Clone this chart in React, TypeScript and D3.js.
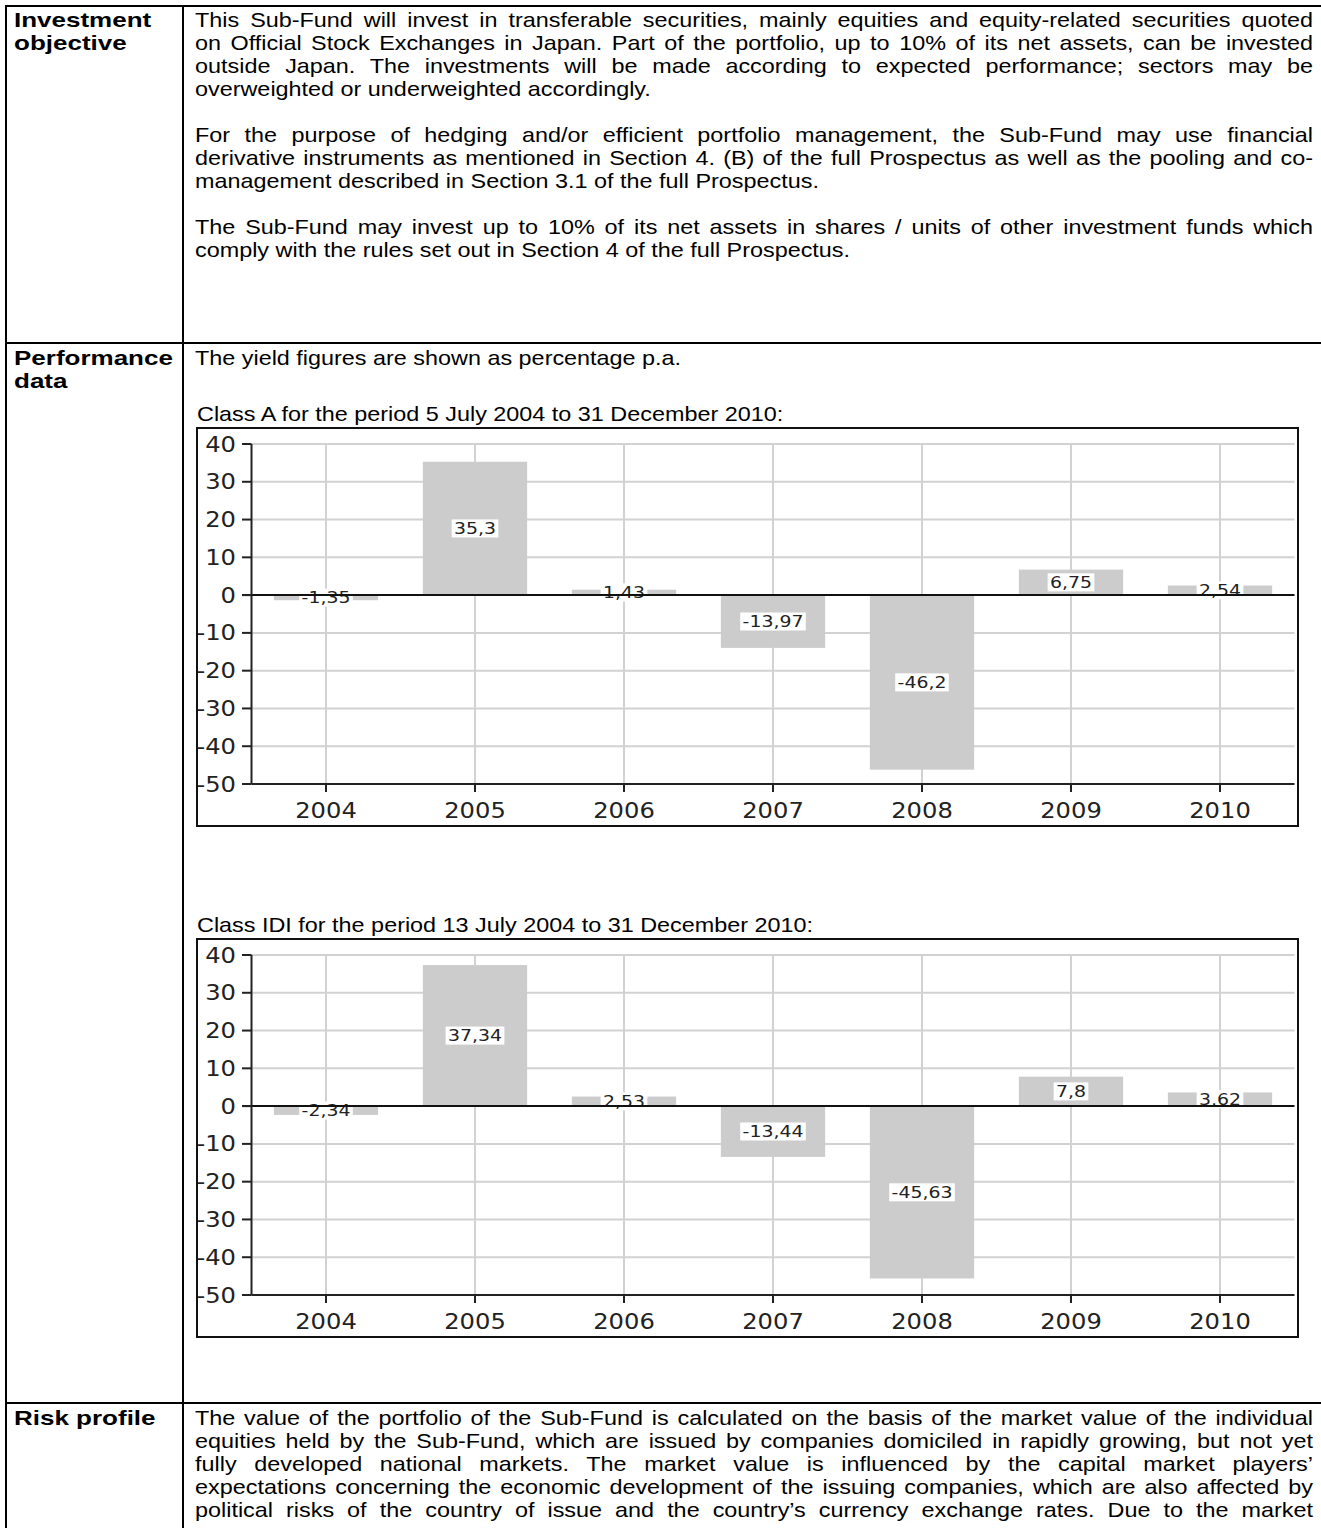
import React, { useEffect, useRef } from 'react';
import * as d3 from 'd3';

const years = ['2004', '2005', '2006', '2007', '2008', '2009', '2010'];
const classAValues = [-1.35, 35.3, 1.43, -13.97, -46.2, 6.75, 2.54];
const classIdiValues = [-2.34, 37.34, 2.53, -13.44, -45.63, 7.8, 3.62];
const yTicks = [40, 30, 20, 10, 0, -10, -20, -30, -40, -50];

// each line: [text, justified]
const objectiveLines: [string, boolean][] = [
  ['This Sub-Fund will invest in transferable securities, mainly equities and equity-related securities quoted', true],
  ['on Official Stock Exchanges in Japan. Part of the portfolio, up to 10% of its net assets, can be invested', true],
  ['outside Japan. The investments will be made according to expected performance; sectors may be', true],
  ['overweighted or underweighted accordingly.', false],
  ['', false],
  ['For the purpose of hedging and/or efficient portfolio management, the Sub-Fund may use financial', true],
  ['derivative instruments as mentioned in Section 4. (B) of the full Prospectus as well as the pooling and co-', true],
  ['management described in Section 3.1 of the full Prospectus.', false],
  ['', false],
  ['The Sub-Fund may invest up to 10% of its net assets in shares / units of other investment funds which', true],
  ['comply with the rules set out in Section 4 of the full Prospectus.', false]
];

const riskLines: [string, boolean][] = [
  ['The value of the portfolio of the Sub-Fund is calculated on the basis of the market value of the individual', true],
  ['equities held by the Sub-Fund, which are issued by companies domiciled in rapidly growing, but not yet', true],
  ['fully developed national markets. The market value is influenced by the capital market players\u2019', true],
  ['expectations concerning the economic development of the issuing companies, which are also affected by', true],
  ['political risks of the country of issue and the country\u2019s currency exchange rates. Due to the market', true]
];

const yieldNote = 'The yield figures are shown as percentage p.a.';
const classATitle = 'Class A for the period 5 July 2004 to 31 December 2010:';
const classIdiTitle = 'Class IDI for the period 13 July 2004 to 31 December 2010:';

const TEXT_FONT = '"Liberation Sans", Arial, sans-serif';
const CHART_FONT = '"DejaVu Sans", Verdana, sans-serif';
const TEXT_LEFT = 195;
const TEXT_RIGHT = 1313;
const LINE_H = 23;
const BODY_SX = 1.17;   // the page is stretched a bit horizontally
const BOLD_SX = 1.3;

export default function App() {
  const svgRef = useRef<SVGSVGElement>(null);

  useEffect(() => {
    if (!svgRef.current) return;
    document.body.style.margin = '0';

    const svg = d3.select(svgRef.current);
    svg.selectAll('*').remove();

    const bodyText = (txt: string, x: number, yc: number) =>
      svg.append('text')
        .attr('transform', `translate(${x},${yc + 7}) scale(${BODY_SX},1)`)
        .attr('font-family', TEXT_FONT)
        .attr('font-size', 20)
        .attr('fill', '#000')
        .attr('xml:space', 'preserve')
        .text(txt);

    const addLines = (lines: [string, boolean][], firstCenter: number) => {
      lines.forEach(([txt, justified], i) => {
        if (!txt) return;
        const t = bodyText(txt, TEXT_LEFT, firstCenter + i * LINE_H);
        if (justified) {
          const w = (t.node() as SVGTextElement).getComputedTextLength();
          const spaces = (txt.match(/ /g) || []).length;
          if (spaces > 0) {
            const target = (TEXT_RIGHT - TEXT_LEFT) / BODY_SX;
            t.attr('word-spacing', ((target - w) / spaces).toFixed(3));
          }
        }
      });
    };

    const addLabel = (txt: string, yc: number) => {
      svg.append('text')
        .attr('transform', `translate(14,${yc + 7}) scale(${BOLD_SX},1)`)
        .attr('font-family', TEXT_FONT)
        .attr('font-size', 20)
        .attr('font-weight', 'bold')
        .text(txt);
    };

    // Row 1
    addLabel('Investment', 20);
    addLabel('objective', 43);
    addLines(objectiveLines, 20);

    // Row 2
    addLabel('Performance', 358);
    addLabel('data', 381);
    addLines([[yieldNote, false]], 358);

    const chartText = (
      parent: d3.Selection<SVGGElement, unknown, null, undefined>,
      txt: string, x: number, y: number, size: number, sx: number, anchor: string
    ) => parent.append('text')
      .attr('transform', `translate(${x},${y}) scale(${sx},1)`)
      .attr('text-anchor', anchor)
      .attr('dominant-baseline', 'central')
      .attr('font-family', CHART_FONT)
      .attr('font-size', size)
      .attr('fill', '#222')
      .text(txt);

    const drawChart = (title: string, values: number[], top: number) => {
      const g = svg.append('g');
      const boxL = 197, boxR = 1298, boxB = top + 398;

      bodyText(title, 197, top - 14);

      const x = d3.scaleBand<string>().domain(years).range([251.5, 1294.5]);
      const y = d3.scaleLinear().domain([-50, 40]).range([top + 356, top + 16]);
      const [x0, x1] = x.range();
      const cx = (d: string) => (x(d) as number) + x.bandwidth() / 2;

      // grid
      g.append('g').selectAll('line')
        .data(yTicks.filter(v => v !== -50 && v !== 0))
        .enter().append('line')
        .attr('x1', x0).attr('x2', x1)
        .attr('y1', d => y(d)).attr('y2', d => y(d))
        .attr('stroke', '#d2d2d2').attr('stroke-width', 2);
      g.append('g').selectAll('line')
        .data(years)
        .enter().append('line')
        .attr('x1', cx).attr('x2', cx)
        .attr('y1', y(40)).attr('y2', y(-50))
        .attr('stroke', '#d2d2d2').attr('stroke-width', 2);

      // bars
      const barW = x.bandwidth() * 0.7;
      g.append('g').selectAll('rect')
        .data(values)
        .enter().append('rect')
        .attr('x', (_, i) => cx(years[i]) - barW / 2)
        .attr('width', barW)
        .attr('y', d => y(Math.max(0, d)))
        .attr('height', d => Math.abs(y(d) - y(0)))
        .attr('fill', '#cccccc');

      // value labels, white box behind
      const labelSx = 1.18;
      values.forEach((v, i) => {
        const lg = g.append('g')
          .attr('transform', `translate(${cx(years[i])},${(y(v) + y(0)) / 2}) scale(${labelSx},1)`);
        const t = lg.append('text')
          .attr('text-anchor', 'middle')
          .attr('dominant-baseline', 'central')
          .attr('font-family', CHART_FONT)
          .attr('font-size', 16)
          .attr('fill', '#222')
          .text(String(v).replace('.', ','));
        const bb = (t.node() as SVGTextElement).getBBox();
        lg.insert('rect', () => t.node())
          .attr('x', bb.x - 2)
          .attr('y', -9)
          .attr('width', bb.width + 4)
          .attr('height', 18)
          .attr('fill', '#fff');
      });

      // zero line
      g.append('line')
        .attr('x1', 242).attr('x2', x1)
        .attr('y1', y(0)).attr('y2', y(0))
        .attr('stroke', '#111').attr('stroke-width', 2);

      // axes
      g.append('line')
        .attr('x1', x0).attr('x2', x0)
        .attr('y1', y(40)).attr('y2', y(-50))
        .attr('stroke', '#222').attr('stroke-width', 2);
      g.append('line')
        .attr('x1', x0).attr('x2', x1)
        .attr('y1', y(-50)).attr('y2', y(-50))
        .attr('stroke', '#222').attr('stroke-width', 2);

      g.append('g').selectAll('line')
        .data(yTicks)
        .enter().append('line')
        .attr('x1', 242).attr('x2', x0)
        .attr('y1', d => y(d)).attr('y2', d => y(d))
        .attr('stroke', '#222').attr('stroke-width', 2);
      yTicks.forEach(d => chartText(g, String(d), 236, y(d), 22, 1.1, 'end'));

      g.append('g').selectAll('line')
        .data(years)
        .enter().append('line')
        .attr('x1', cx).attr('x2', cx)
        .attr('y1', y(-50)).attr('y2', y(-50) + 8)
        .attr('stroke', '#222').attr('stroke-width', 2);
      years.forEach(d => chartText(g, d, cx(d), y(-50) + 26, 22, 1.1, 'middle'));

      // frame
      g.append('rect')
        .attr('x', boxL).attr('y', top)
        .attr('width', boxR - boxL).attr('height', boxB - top)
        .attr('fill', 'none')
        .attr('stroke', '#111').attr('stroke-width', 2);
    };

    drawChart(classATitle, classAValues, 428);
    drawChart(classIdiTitle, classIdiValues, 939);

    // Row 3
    addLabel('Risk profile', 1418);
    addLines(riskLines, 1418);

    // table rules
    const rules = svg.append('g').attr('stroke', '#000').attr('stroke-width', 2);
    rules.append('line').attr('x1', 6).attr('x2', 1340).attr('y1', 6).attr('y2', 6);
    rules.append('line').attr('x1', 6).attr('x2', 1340).attr('y1', 343).attr('y2', 343);
    rules.append('line').attr('x1', 6).attr('x2', 1340).attr('y1', 1403).attr('y2', 1403);
    rules.append('line').attr('x1', 6).attr('x2', 6).attr('y1', 5).attr('y2', 1540);
    rules.append('line').attr('x1', 183).attr('x2', 183).attr('y1', 5).attr('y2', 1540);
  }, []);

  return (
    <svg ref={svgRef} width={1321} height={1528} style={{ display: 'block', background: '#fff' }} />
  );
}
